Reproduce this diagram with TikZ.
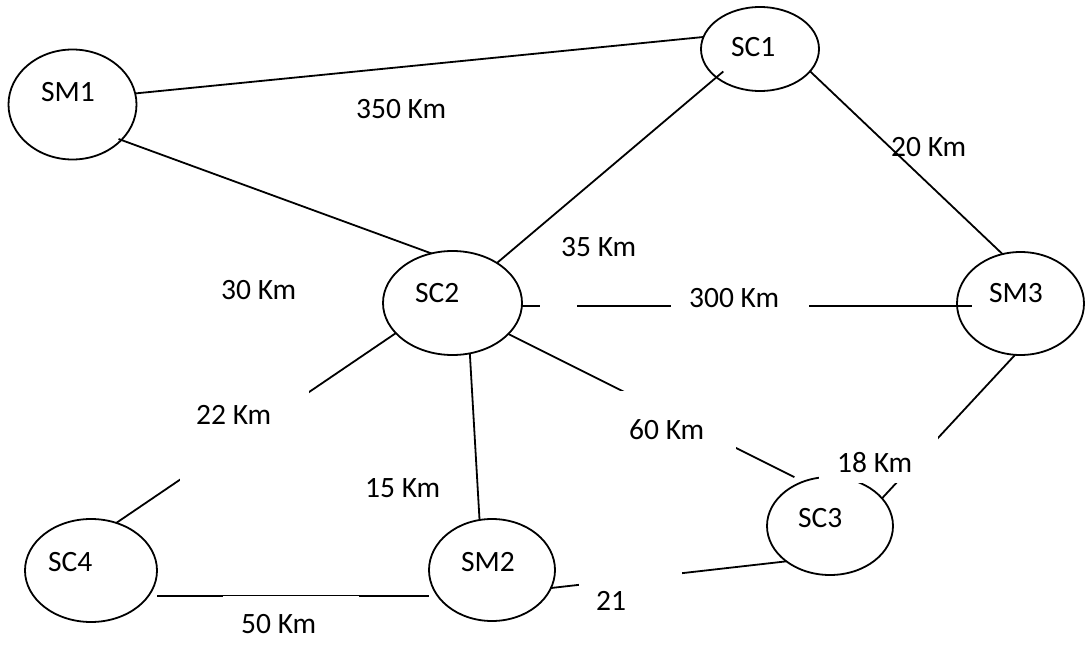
\documentclass[tikz,border=0pt]{standalone}
\usepackage{fontspec}
\setmainfont{Carlito}
\usetikzlibrary{shapes.geometric}
\begin{document}
\begin{tikzpicture}[x=1pt,y=-1pt,
  station/.style={draw, ellipse, line width=1.8pt, inner sep=0pt, outer sep=0pt},
  wire/.style={line width=1.8pt},
  stlabel/.style={font=\fontsize{29.5pt}{35pt}\selectfont, inner sep=0pt, anchor=base west},
  kmlabel/.style={font=\fontsize{29.5pt}{35pt}\selectfont, inner sep=0pt, anchor=base west},
  kmbox/.style={kmlabel, fill=white, inner ysep=0pt},
]
% page
\fill[white] (0,0) rectangle (1085,641);

% stations
\node[station, minimum width=128pt, minimum height=110pt] (sm1) at (72.5,104.5) {};
\node[station, minimum width=118pt, minimum height=84pt]  (sc1) at (760,49) {};
\node[station, minimum width=139pt, minimum height=104pt] (sc2) at (452.5,303) {};
\node[station, minimum width=127pt, minimum height=103pt] (sm3) at (1020.5,303.5) {};
\node[station, minimum width=126pt, minimum height=98pt]  (sc3) at (830,526) {};
\node[station, minimum width=126pt, minimum height=102pt] (sm2) at (492,570) {};
\node[station, minimum width=132pt, minimum height=103pt] (sc4) at (91,570.5) {};

% station names
\node[stlabel] (sm1t) at (41,102) {SM1};
\node[stlabel] (sc1t) at (731,57) {SC1};
\node[stlabel] (sc2t) at (415,302) {SC2};
\node[stlabel] (sm3t) at (989,302) {SM3};
\node[stlabel] (sc3t) at (798,527) {SC3};
\node[stlabel] (sm2t) at (461,571) {SM2};
\node[stlabel] (sc4t) at (48,571) {SC4};

% links
\draw[wire] (sm1.10) -- (sc1.168);
\draw[wire, shorten <=-3pt] (sm1.-36) -- (sc2.113);
\draw[wire, shorten <=-9pt] (sc1.213) -- (sc2.42);
\draw[wire] (sc1.-24) -- (sm3.110);
\draw[wire, dash pattern=on 18pt off 37pt on 2000pt off 10pt, shorten >=-15pt]
  ([yshift=-3pt]sc2.east) -- ([yshift=-2.5pt]sm3.west);
\draw[wire] (sc2.208) -- (sc4.62);
\draw[wire] (sc2.-71) -- (sm2.104);
\draw[wire, shorten >=10pt] (sc2.-29) -- (sc3.121);
\draw[wire] (sm3.-96) -- (sc3.28);
\draw[wire] (sm2.-17) -- (sc3.219);
\draw[wire] ([yshift=-25.5pt]sc4.east) -- ([yshift=-26pt]sm2.west);

% distances
\node[kmlabel] (d350) at (356,119) {350 Km};
\node[kmlabel] (d30) at (221,299) {30 Km};
\node[kmlabel] (d35) at (561,256) {35 Km};
\node[kmlabel] (d20) at (891,157) {20 Km};
\node[kmlabel] (d15) at (365,497) {15 Km};

% distance boxes with white ground over the links
\node[kmbox, inner xsep=18pt, text height=26pt, text depth=24pt] (d300) at (671,307) {\makebox[102pt][l]{300 Km}};
\node[kmbox, inner xsep=16pt, text height=36pt, text depth=61pt] (d22) at (180,424) {\makebox[97pt][l]{22 Km}};
\node[kmbox, inner xsep=17pt, text height=48pt, text depth=31pt] (d60) at (612,439) {\makebox[90pt][l]{60 Km}};
\node[kmbox, inner xsep=18pt, text height=37pt, text depth=11pt] (d18) at (819,472) {\makebox[83pt][l]{18 Km}};
\node[kmbox, inner xsep=17pt, text height=45pt, text depth=15pt] (d21) at (579,610) {\makebox[69pt][l]{21}};
\node[kmbox, inner xsep=18pt, text height=37pt, text depth=17pt] (d50) at (223,633) {\makebox[100pt][l]{50 Km}};

\useasboundingbox (0,0) rectangle (1085,641);
\end{tikzpicture}
\end{document}
